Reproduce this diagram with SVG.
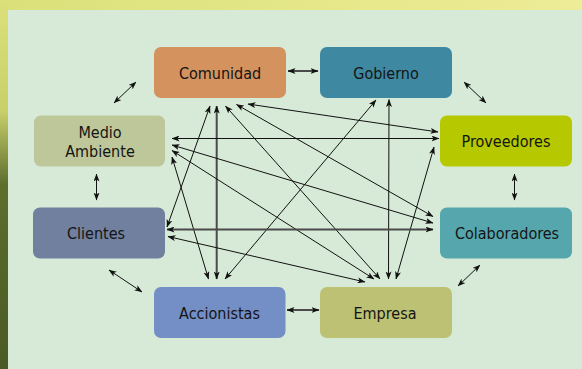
<svg xmlns="http://www.w3.org/2000/svg" width="582" height="369" viewBox="0 0 582 369">
<defs>
<linearGradient id="top" x1="0" y1="0" x2="1" y2="0">
<stop offset="0" stop-color="#dbe07a"/>
<stop offset="0.6" stop-color="#e6e88a"/>
<stop offset="1" stop-color="#eeec98"/>
</linearGradient>
<linearGradient id="left" x1="0" y1="0" x2="0" y2="1">
<stop offset="0" stop-color="#dbe07a"/>
<stop offset="0.3" stop-color="#c9d06a"/>
<stop offset="0.5" stop-color="#5d6e2c"/>
<stop offset="1" stop-color="#4a5a24"/>
</linearGradient>
<marker id="ah" viewBox="0 0 8 6" refX="7.5" refY="3" markerWidth="8" markerHeight="6" markerUnits="userSpaceOnUse" orient="auto-start-reverse">
<path d="M0,0 L8,3 L0,6 L2,3 z" fill="#111"/>
</marker>
</defs>
<style>
.node rect { stroke: none; }
.node text { font-family: "DejaVu Sans Condensed", "DejaVu Sans", sans-serif; font-stretch: condensed; font-size: 16px; fill: #141414; text-anchor: middle; }
.c line { stroke: #111; stroke-width: 1; marker-start: url(#ah); marker-end: url(#ah); }
.c line.thick { stroke: #4a4a4a; stroke-width: 2; }
</style>
<rect x="0" y="0" width="582" height="369" fill="url(#top)"/>
<rect x="0" y="0" width="8" height="369" fill="url(#left)"/>
<rect x="8" y="10" width="574" height="359" fill="#d7ead7"/>

<g class="c" id="connectors">
<line class="thick" x1="288" y1="71" x2="318" y2="71"/>
<line x1="136" y1="82" x2="114" y2="103"/>
<line x1="464" y1="82" x2="486" y2="103"/>
<line x1="96.5" y1="174" x2="96.5" y2="200"/>
<line x1="514.5" y1="174" x2="514.5" y2="200"/>
<line x1="109" y1="270" x2="142" y2="292"/>
<line class="thick" x1="287" y1="310" x2="319" y2="310"/>
<line x1="458" y1="286" x2="480" y2="265"/>

<line x1="210" y1="106" x2="167" y2="227"/>
<line class="thick" x1="216.7" y1="106" x2="216.7" y2="279"/>
<line x1="225.5" y1="106" x2="380" y2="279"/>
<line x1="236.5" y1="104.5" x2="433" y2="216.5"/>
<line x1="248" y1="104" x2="438" y2="132"/>
<line x1="172" y1="138.5" x2="439" y2="138.5"/>
<line x1="172" y1="145" x2="433" y2="223"/>
<line x1="172" y1="150.5" x2="374" y2="279"/>
<line x1="172" y1="157" x2="208.5" y2="279"/>
<line x1="376" y1="100" x2="225" y2="279"/>
<line x1="389" y1="99.5" x2="388.5" y2="279"/>
<line x1="434" y1="147" x2="396" y2="279"/>
<line class="thick" x1="167" y1="229.5" x2="433" y2="229.5"/>
<line x1="168" y1="236.5" x2="365" y2="282"/>
</g>

<g class="node" id="comunidad"><rect x="154" y="47" width="132" height="51" rx="7" fill="#d3925e"/><text x="220" y="78.5">Comunidad</text></g>
<g class="node" id="gobierno"><rect x="320" y="47" width="132" height="51" rx="7" fill="#3e88a1"/><text x="386" y="78.5">Gobierno</text></g>
<g class="node" id="medio-ambiente"><rect x="34" y="115.5" width="131" height="51" rx="7" fill="#bdc799"/><text x="100" y="137.5">Medio</text><text x="100" y="156.5">Ambiente</text></g>
<g class="node" id="proveedores"><rect x="440" y="115.5" width="132" height="51" rx="7" fill="#b6c800"/><text x="506" y="147">Proveedores</text></g>
<g class="node" id="clientes"><rect x="33" y="207.5" width="132" height="51" rx="7" fill="#71809e"/><text x="96" y="239">Clientes</text></g>
<g class="node" id="colaboradores"><rect x="440" y="207.5" width="132" height="51" rx="7" fill="#56a6ae"/><text x="507" y="239">Colaboradores</text></g>
<g class="node" id="accionistas"><rect x="154" y="287" width="131.5" height="51" rx="7" fill="#738fc6"/><text x="219.5" y="319">Accionistas</text></g>
<g class="node" id="empresa"><rect x="320" y="287" width="132" height="51" rx="7" fill="#bcc173"/><text x="385" y="319">Empresa</text></g>
</svg>
